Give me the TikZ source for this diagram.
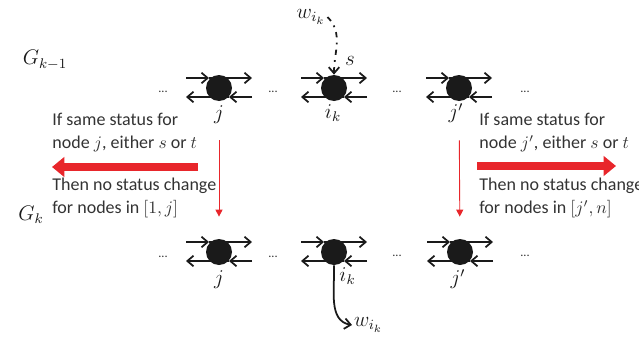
\documentclass[tikz,border=0pt]{standalone}
\usepackage{fontspec}
\setmainfont{Carlito}
\usepackage{tikz}
\usetikzlibrary{arrows.meta, positioning, calc}
\definecolor{cRed}{HTML}{E8262B}
\definecolor{cText}{HTML}{333333}
\definecolor{cDot}{HTML}{1A1A1A}
\tikzset{
  vtx/.style={circle, fill=cDot, minimum size=0.52cm, inner sep=0pt},
  harw/.style={-{Straight Barb[length=3.5pt, width=6pt]}, line width=1pt, color=cDot},
  lbl/.style={font=\large, text=cDot, inner sep=1pt},
  gap/.style={font=\scriptsize, text=cText, inner sep=0pt},
  note/.style={font=\fontsize{10.25}{13}\selectfont, text=cText, align=left,
    anchor=north west, inner sep=0pt},
  bigred/.style={-{Triangle[length=7pt, width=11pt]}, line width=4.5pt, color=cRed},
  thinred/.style={-{Triangle[length=4pt, width=4pt]}, line width=0.5pt, color=cRed},
}

\begin{document}
\begin{tikzpicture}
  \useasboundingbox (0,0) rectangle (12.78,-6.78);

  % graph labels
  \node[lbl] (gk1) at (0.9,-1.2) {$G_{k-1}$};
  \node[lbl] (gk) at (0.62,-4.3) {$G_k$};

  % top row
  \node[vtx] (jt) at (4.38,-1.76) {};
  \node[vtx] (it) at (6.68,-1.76) {};
  \node[vtx] (jpt) at (9.18,-1.76) {};
  \node[gap] (d1) at (3.26,-1.84) {...};
  \node[gap] (d2) at (5.46,-1.84) {...};
  \node[gap] (d3) at (7.94,-1.84) {...};
  \node[gap] (d4) at (10.5,-1.84) {...};
  \node[lbl] (jtl) at (4.38,-2.3) {$j$};
  \node[lbl] (itl) at (6.66,-2.26) {$i_k$};
  \node[lbl] (jptl) at (9.12,-2.26) {$j'$};

  % bottom row
  \node[vtx] (jb) at (4.38,-5.04) {};
  \node[vtx] (ib) at (6.68,-5.04) {};
  \node[vtx] (jpb) at (9.2,-5.04) {};
  \node[gap] (d5) at (3.26,-5.14) {...};
  \node[gap] (d6) at (5.46,-5.14) {...};
  \node[gap] (d7) at (7.94,-5.12) {...};
  \node[gap] (d8) at (10.5,-5.12) {...};
  \node[lbl] (jbl) at (4.38,-5.6) {$j$};
  \node[lbl] (ibl) at (6.95,-5.52) {$i_k$};
  \node[lbl] (jpbl) at (9.16,-5.58) {$j'$};

  % in/out edges of every vertex
  \foreach \v in {jt,it,jpt,jb,ib,jpb} {
    \draw[harw] ([shift={(-0.66,0.2)}]\v.center) -- ([shift={(-0.2,0.2)}]\v.center);
    \draw[harw] ([shift={(-0.2,0.2)}]\v.center) -- ([shift={(0.66,0.2)}]\v.center);
    \draw[harw] ([shift={(0.66,-0.18)}]\v.center) -- ([shift={(0.2,-0.18)}]\v.center);
    \draw[harw] ([shift={(0.2,-0.18)}]\v.center) -- ([shift={(-0.66,-0.18)}]\v.center);
  }

  % weight moving in and out of i_k
  \node[lbl] (wt) at (6.22,-0.34) {$w_{i_k}$};
  \node[lbl] (s) at (7.0,-1.22) {$s$};
  \draw[harw, dash pattern=on 3pt off 3pt on 1pt off 3pt]
    (wt.east) to[out=-45, in=90] (it.north);
  \node[lbl, anchor=west] (wb) at (7.04,-6.5) {$w_{i_k}$};
  \draw[harw] (ib.south) to[out=-88, in=170] (wb.west);

  % left side
  \node[note] (lt) at (1.04,-2.26) {If same status for\\node $j$, either $s$ or $t$};
  \node[note] (lb) at (1.04,-3.56) {Then no status change\\for nodes in $[1,j]$};
  \coordinate (la) at (3.96,-3.34);
  \coordinate (lz) at (1.04,-3.34);
  \draw[bigred] (la) -- (lz);
  \draw[thinred, shorten <=0.78cm, shorten >=0.44cm] (jt) -- (jb);

  % right side
  \node[note] (rt) at (9.58,-2.26) {If same status for\\node $j'$, either $s$ or $t$};
  \node[note] (rb) at (9.58,-3.56) {Then no status change\\for nodes in $[j',n]$};
  \coordinate (ra) at (9.54,-3.32);
  \coordinate (rz) at (12.32,-3.32);
  \draw[bigred] (ra) -- (rz);
  \draw[thinred, shorten <=0.78cm, shorten >=0.44cm] (jpt) -- (jpb);

\end{tikzpicture}
\end{document}
